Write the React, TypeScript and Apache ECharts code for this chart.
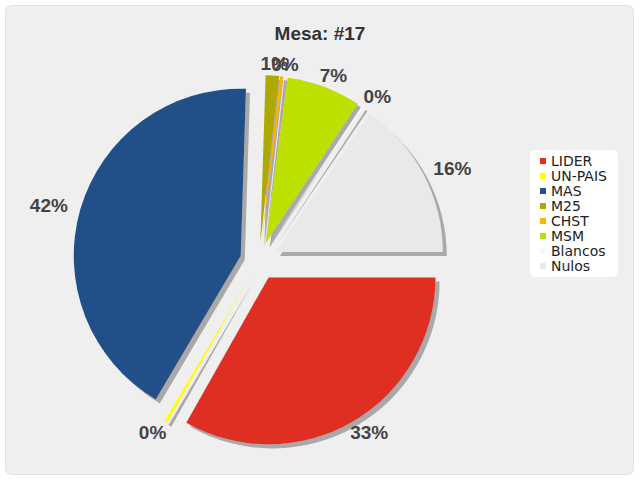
import React, { useEffect, useRef } from 'react';
import * as echarts from 'echarts';

const titleText = 'Mesa: #17';
const categories = ['LIDER', 'UN-PAIS', 'MAS', 'M25', 'CHST', 'MSM', 'Blancos', 'Nulos'];
const values = [33.2, 0.3, 42.0, 1.3, 0.3, 7.2, 0.2, 15.5];
const colors = ['#df2e24', '#ffff00', '#245088', '#ada900', '#ffb300', '#bee000', '#f7f7f7', '#e9e9e9'];

const CX = 259, CY = 261, R = 167, OFFSET = 19, LABEL_GAP = 10;

export default function App() {
  const ref = useRef<HTMLDivElement>(null);
  useEffect(() => {
    if (!ref.current) return;
    const chart = echarts.init(ref.current, undefined, { renderer: 'svg' });
    const total = values.reduce((a, b) => a + b, 0);
    const labelFont = {
      fontFamily: 'Liberation Sans',
      fontSize: 19,
      fontWeight: 'bold',
      color: '#444',
    };
    const option: any = {
      animation: false,
      backgroundColor: '#ffffff',
      graphic: [
        {
          type: 'rect',
          z: -100,
          silent: true,
          shape: { x: 5.5, y: 5.5, width: 628, height: 469, r: 6 },
          style: { fill: '#efefef', stroke: '#e0e0e0', lineWidth: 1 },
        },
      ],
      title: {
        text: titleText,
        left: 'center',
        top: 24,
        padding: 0,
        textStyle: { fontFamily: 'Liberation Sans', fontSize: 19, fontWeight: 'bold', color: '#333' },
      },
      legend: {
        orient: 'vertical',
        left: 530,
        top: 150,
        padding: [4, 11, 4, 10],
        backgroundColor: '#ffffff',
        borderRadius: 5,
        icon: 'rect',
        itemWidth: 6,
        itemHeight: 6,
        itemGap: 1,
        selectedMode: false,
        data: categories,
        itemStyle: { shadowBlur: 0, shadowOffsetX: 0, shadowOffsetY: 0, shadowColor: 'rgba(0,0,0,0)' },
        textStyle: { fontFamily: 'DejaVu Sans', fontSize: 14, lineHeight: 14, color: '#222' },
      },
      series: [
        {
          type: 'pie',
          center: [CX, CY],
          radius: R,
          startAngle: 0,
          clockwise: true,
          selectedMode: 'multiple',
          selectedOffset: OFFSET,
          emphasis: { disabled: true },
          data: categories.map((n, i) => ({
            name: n,
            value: values[i],
            selected: true,
            itemStyle: { color: colors[i] },
          })),
          itemStyle: {
            shadowColor: '#a9a9a9',
            shadowOffsetX: 4,
            shadowOffsetY: 4,
            shadowBlur: 0,
            borderWidth: 0,
          },
          label: { show: false },
          labelLine: { show: false },
        },
        {
          type: 'pie',
          center: [CX, CY],
          radius: [R + OFFSET, R + OFFSET + 2],
          startAngle: 0,
          clockwise: true,
          silent: true,
          avoidLabelOverlap: false,
          emphasis: { disabled: true },
          data: categories.map((n, i) => ({ name: n, value: values[i] })),
          itemStyle: { color: 'rgba(0,0,0,0)', borderWidth: 0 },
          label: {
            show: true,
            position: 'inside',
            formatter: (p: any) => Math.round(p.percent) + '%',
            ...labelFont,
          },
          labelLine: { show: false },
          labelLayout: (p: any) => {
            const i = p.dataIndex;
            let cum = 0;
            for (let j = 0; j < i; j++) cum += values[j];
            const mid = ((cum + values[i] / 2) / total) * Math.PI * 2;
            const dx = Math.cos(mid), dy = Math.sin(mid);
            const w = p.labelRect.width, h = p.labelRect.height;
            const dist = OFFSET + R + LABEL_GAP;
            return {
              x: CX + dx * dist + dx * w * 0.6,
              y: CY + dy * dist + dy * h * 0.12,
              align: 'center',
              verticalAlign: 'middle',
            };
          },
        },
      ],
    };
    chart.setOption(option);
    return () => chart.dispose();
  }, []);
  return <div ref={ref} style={{ position: 'fixed', left: 0, top: 0, width: 640, height: 480 }} />;
}
